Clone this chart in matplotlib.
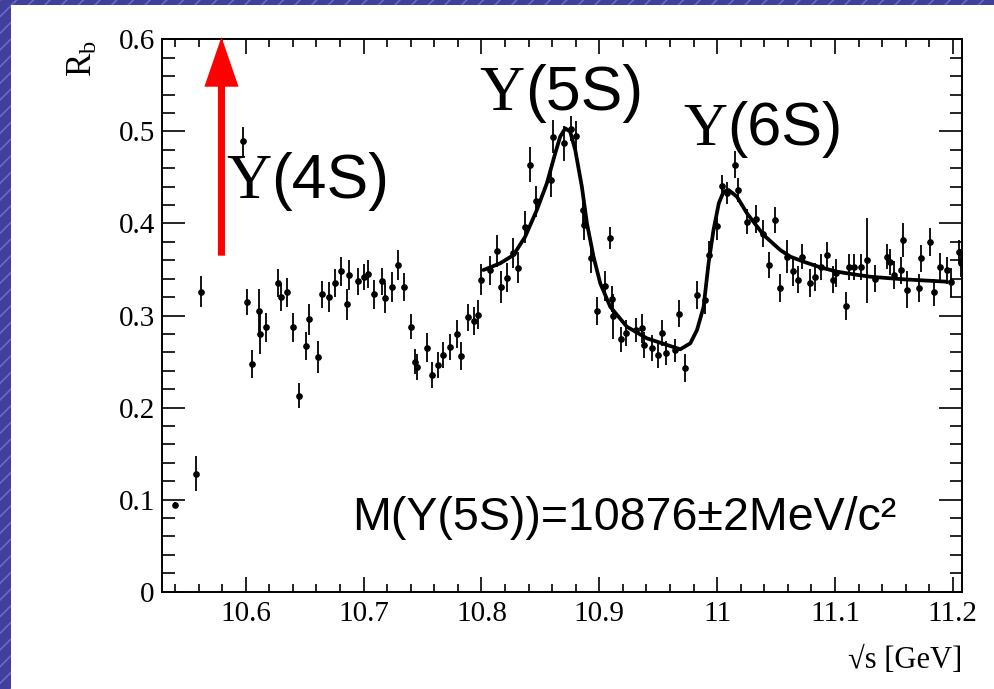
import matplotlib
matplotlib.use("Agg")
import matplotlib.pyplot as plt
from matplotlib.patches import Rectangle
from matplotlib.ticker import MultipleLocator

# ---------------- data ----------------
# R_b scan points: sqrt(s) [GeV], R_b, stat. error
sqrt_s = [10.540, 10.558, 10.562, 10.598, 10.601, 10.605, 10.611, 10.612, 10.617, 10.627,
          10.630, 10.635, 10.640, 10.645, 10.651, 10.654, 10.661, 10.665, 10.671, 10.676,
          10.681, 10.686, 10.688, 10.695, 10.700, 10.704, 10.709, 10.716, 10.718, 10.724,
          10.729, 10.734, 10.740, 10.744, 10.745, 10.754, 10.758, 10.763, 10.767, 10.773,
          10.779, 10.783, 10.789, 10.794, 10.797, 10.800, 10.807, 10.813, 10.817, 10.822,
          10.827, 10.831, 10.837, 10.841, 10.846, 10.859, 10.861, 10.870, 10.876, 10.880,
          10.886, 10.887, 10.893, 10.898, 10.905, 10.909, 10.911, 10.912, 10.918, 10.923,
          10.931, 10.936, 10.938, 10.945, 10.950, 10.953, 10.957, 10.964, 10.968, 10.973,
          10.983, 10.990, 10.993, 11.000, 11.004, 11.008, 11.015, 11.018, 11.025, 11.033,
          11.039, 11.044, 11.049, 11.053, 11.059, 11.064, 11.069, 11.072, 11.079, 11.083,
          11.088, 11.093, 11.098, 11.101, 11.109, 11.112, 11.116, 11.122, 11.127, 11.134,
          11.144, 11.147, 11.150, 11.156, 11.158, 11.161, 11.171, 11.173, 11.181, 11.184,
          11.189, 11.195, 11.198, 11.205, 11.207]
r_b = [0.094, 0.128, 0.326, 0.489, 0.315, 0.247, 0.305, 0.280, 0.287, 0.335,
       0.320, 0.325, 0.287, 0.213, 0.267, 0.296, 0.255, 0.323, 0.320, 0.335,
       0.348, 0.312, 0.344, 0.337, 0.342, 0.345, 0.323, 0.337, 0.319, 0.331,
       0.355, 0.331, 0.288, 0.250, 0.244, 0.265, 0.235, 0.246, 0.257, 0.266,
       0.280, 0.256, 0.298, 0.294, 0.301, 0.339, 0.349, 0.370, 0.331, 0.341,
       0.368, 0.352, 0.396, 0.464, 0.424, 0.447, 0.494, 0.487, 0.503, 0.495,
       0.415, 0.398, 0.362, 0.305, 0.332, 0.384, 0.318, 0.299, 0.274, 0.281,
       0.284, 0.286, 0.268, 0.265, 0.257, 0.281, 0.259, 0.262, 0.302, 0.243,
       0.322, 0.317, 0.366, 0.397, 0.441, 0.433, 0.464, 0.436, 0.402, 0.405,
       0.389, 0.355, 0.404, 0.330, 0.364, 0.348, 0.339, 0.364, 0.335, 0.342,
       0.353, 0.366, 0.339, 0.346, 0.310, 0.353, 0.353, 0.353, 0.360, 0.340,
       0.364, 0.358, 0.344, 0.349, 0.382, 0.328, 0.330, 0.362, 0.380, 0.325,
       0.353, 0.349, 0.336, 0.369, 0.357]
r_b_err = [0.003, 0.019, 0.017, 0.016, 0.014, 0.015, 0.024, 0.022, 0.016, 0.015,
           0.015, 0.016, 0.016, 0.014, 0.015, 0.017, 0.017, 0.015, 0.016, 0.015,
           0.016, 0.017, 0.016, 0.015, 0.014, 0.015, 0.016, 0.015, 0.016, 0.016,
           0.016, 0.015, 0.014, 0.014, 0.014, 0.016, 0.014, 0.014, 0.014, 0.014,
           0.015, 0.015, 0.015, 0.015, 0.016, 0.017, 0.016, 0.017, 0.017, 0.016,
           0.016, 0.017, 0.017, 0.019, 0.017, 0.018, 0.018, 0.019, 0.014, 0.016,
           0.016, 0.016, 0.016, 0.015, 0.016, 0.012, 0.014, 0.024, 0.014, 0.014,
           0.013, 0.016, 0.014, 0.014, 0.014, 0.014, 0.013, 0.013, 0.015, 0.015,
           0.015, 0.015, 0.015, 0.015, 0.012, 0.012, 0.015, 0.013, 0.014, 0.015,
           0.015, 0.014, 0.014, 0.015, 0.018, 0.016, 0.015, 0.014, 0.015, 0.015,
           0.014, 0.014, 0.015, 0.015, 0.015, 0.014, 0.014, 0.014, 0.046, 0.015,
           0.014, 0.014, 0.015, 0.015, 0.019, 0.020, 0.015, 0.015, 0.015, 0.015,
           0.015, 0.015, 0.016, 0.013, 0.015]

# fit curve (Y(5S) + Y(6S) line shapes)
fit_x = [10.8017, 10.8159, 10.8272, 10.8371, 10.8470, 10.8555, 10.8626, 10.8668, 10.8711,
         10.8753, 10.8796, 10.8852, 10.8895, 10.8951, 10.9008, 10.9093, 10.9234, 10.9404,
         10.9574, 10.9687, 10.9772, 10.9829, 10.9885, 10.9927, 10.9969, 11.0014, 11.0054,
         11.0097, 11.0168, 11.0253, 11.0394, 11.0536, 11.0621, 11.0734, 11.0876, 11.1017,
         11.1158, 11.1300, 11.1582, 11.1951]
fit_y = [0.3494, 0.3567, 0.3657, 0.3856, 0.4146, 0.4436, 0.4762, 0.4942, 0.5033,
         0.4996, 0.4797, 0.4399, 0.4001, 0.3639, 0.3350, 0.3095, 0.2878, 0.2752,
         0.2680, 0.2633, 0.2698, 0.2842, 0.3095, 0.3567, 0.3929, 0.4219, 0.4345,
         0.4363, 0.4290, 0.4110, 0.3874, 0.3711, 0.3639, 0.3584, 0.3523, 0.3476,
         0.3447, 0.3421, 0.3393, 0.3367]

x_ticks = [10.6, 10.7, 10.8, 10.9, 11.0, 11.1, 11.2]
x_tick_labels = ["10.6", "10.7", "10.8", "10.9", "11", "11.1", "11.2"]
y_ticks = [0.0, 0.1, 0.2, 0.3, 0.4, 0.5, 0.6]
y_tick_labels = ["0", "0.1", "0.2", "0.3", "0.4", "0.5", "0.6"]

m_y4s = 10.5794          # Y(4S) mass, marked by the arrow
arrow_from, arrow_to = 0.365, 0.6025

# ---------------- style ----------------
plt.rcParams['font.family'] = ['Liberation Serif', 'DejaVu Serif']
plt.rcParams['mathtext.fontset'] = 'custom'
plt.rcParams['mathtext.rm'] = 'Liberation Serif'
plt.rcParams['mathtext.it'] = 'Liberation Serif:italic'
plt.rcParams['hatch.linewidth'] = 1.2

W, H = 995, 689
fig = plt.figure(figsize=(W / 100, H / 100), dpi=100)
fig.patch.set_facecolor('white')
fig.patch.set_linewidth(0)

# slide background: striped blue strips along the left and top edges
strip_kw = dict(transform=fig.transFigure, facecolor='#40409c', edgecolor='#6b6bc6',
                hatch='//', lw=0, zorder=-10)
fig.patches.append(Rectangle((0, 0), 11 / W, 1, **strip_kw))
fig.patches.append(Rectangle((0, 1 - 5 / H), 1, 5 / H, **strip_kw))

left, right, top, bottom = 161.7, 962.3, 39.3, 591.7
ax = fig.add_axes([left / W, (H - bottom) / H, (right - left) / W, (bottom - top) / H])
ax.set_facecolor('none')
ax.set_xlim(10.5287, 11.208)
ax.set_ylim(0, 0.6)

ax.errorbar(sqrt_s, r_b, yerr=r_b_err, fmt='o', ms=3.8, color='black',
            ecolor='black', elinewidth=1.3, capsize=0, zorder=3)
ax.plot(fit_x, fit_y, color='black', lw=2.7, solid_capstyle='round', zorder=4)

ax.arrow(m_y4s, arrow_from, 0, arrow_to - arrow_from, width=0.006,
         head_width=0.029, head_length=0.054, length_includes_head=True,
         color='#ff0000', lw=0, clip_on=False, zorder=5)

ax.set_xticks(x_ticks)
ax.set_xticklabels(x_tick_labels)
ax.set_yticks(y_ticks)
ax.set_yticklabels(y_tick_labels)
ax.xaxis.set_minor_locator(MultipleLocator(0.02))
ax.yaxis.set_minor_locator(MultipleLocator(0.02))
ax.tick_params(which='both', direction='in', top=True, right=True, color='black')
ax.tick_params(axis='x', which='major', length=11, width=1.2, pad=7, labelsize=21)
ax.tick_params(axis='x', which='minor', length=5.5, width=1.2)
ax.tick_params(axis='y', which='major', length=16.5, width=1.2, pad=5, labelsize=21)
ax.tick_params(axis='y', which='minor', length=9, width=1.2)
for sp in ax.spines.values():
    sp.set_linewidth(1.4)

fig.text(962 / W, 1 - 668 / H, "√s [GeV]", ha='right', va='baseline', fontsize=22)
fig.text(83.5 / W, 1 - 40 / H, r"$\mathrm{R_b}$", rotation=90, ha='center', va='top',
         fontsize=25)

renderer = fig.canvas.get_renderer()


def upsilon_label(x, y, tail, size):
    """Serif Upsilon followed by a sans-serif state name, on one baseline."""
    t1 = ax.text(x, y, "Υ", family=['Liberation Serif', 'DejaVu Serif'], fontsize=size,
                 ha='left', va='baseline', zorder=6)
    x1 = t1.get_window_extent(renderer=renderer).x1
    x2 = ax.transData.inverted().transform((x1, 0))[0]
    ax.text(x2, y, tail, family=['Liberation Sans', 'DejaVu Sans'], fontsize=size,
            ha='left', va='baseline', zorder=6)


upsilon_label(10.5835, 0.4276, "(4S)", 45)
upsilon_label(10.7985, 0.5232, "(5S)", 45)
upsilon_label(10.9710, 0.4852, "(6S)", 44)

ax.text(10.6905, 0.0670, "M(Υ(5S))=10876±2MeV/c²", family=['Liberation Sans', 'DejaVu Sans'],
        fontsize=33.5, ha='left', va='baseline', zorder=6)

fig.savefig("out.png", dpi=100, facecolor='white')
